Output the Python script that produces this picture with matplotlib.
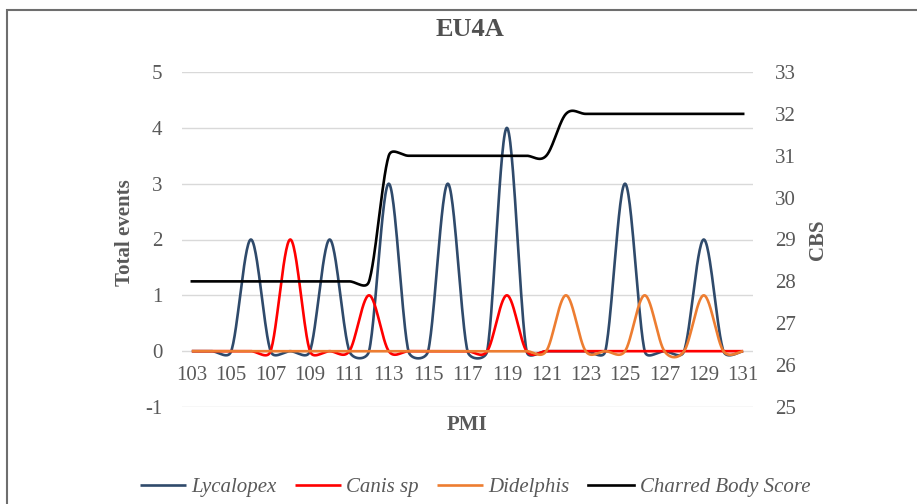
import numpy as np
import matplotlib
matplotlib.use("Agg")
import matplotlib.pyplot as plt
from matplotlib.patches import Rectangle


# Chart data
PMI = list(range(103, 132))
LYCALOPEX = [0, 0, 0, 2, 0, 0, 0, 2, 0, 0, 3, 0, 0, 3, 0,
             0, 4, 0, 0, 0, 0, 0, 3, 0, 0, 0, 2, 0, 0]
CANIS = [0, 0, 0, 0, 0, 2, 0, 0, 0, 1, 0, 0, 0, 0, 0,
         0, 1, 0, 0, 0, 0, 0, 0, 0, 0, 0, 0, 0, 0]
DIDELPHIS = [0, 0, 0, 0, 0, 0, 0, 0, 0, 0, 0, 0, 0, 0, 0,
             0, 0, 0, 0, 1, 0, 0, 0, 1, 0, 0, 1, 0, 0]
CBS = [28, 28, 28, 28, 28, 28, 28, 28, 28, 28, 31, 31, 31, 31, 31,
       31, 31, 31, 31, 32, 32, 32, 32, 32, 32, 32, 32, 32, 32]
SERIES_NAMES = ["Lycalopex", "Canis sp", "Didelphis", "Charred Body Score"]

# Styling
W, H = 917, 504
GREY = "#595959"
COLORS = ["#2f4a6b", "#ff0000", "#ed7d31", "#000000"]
plt.rcParams["font.family"] = ["Liberation Serif", "DejaVu Serif"]
plt.rcParams["axes.unicode_minus"] = False


def smooth(axis, xs, ys, steps=30):
    """Excel-like smoothed line: Catmull-Rom Bezier segments, with every
    control arm limited to half the on-screen length of its segment."""
    pts = axis.transData.transform(np.column_stack([xs, ys]).astype(float))
    pad = np.vstack([pts[:1], pts, pts[-1:]])
    n = len(pts)

    def ctrl(i):
        # (incoming, outgoing) control points around pad[i]
        p0, p1, p2 = pad[i - 1], pad[i], pad[i + 1]
        v = p2 - p0
        lv = np.hypot(*v)
        if lv == 0:
            return p1, p1
        u = v / lv
        arm_in = min(lv / 6, np.hypot(*(p1 - p0)) / 2)
        arm_out = min(lv / 6, np.hypot(*(p2 - p1)) / 2)
        return p1 - arm_in * u, p1 + arm_out * u

    t = np.linspace(0, 1, steps)[:, None]
    out = []
    for i in range(n - 1):
        a = pad[i + 1]
        b = pad[i + 2]
        c1 = ctrl(i + 1)[1]
        c2 = ctrl(i + 2)[0]
        seg = ((1 - t) ** 3) * a + 3 * ((1 - t) ** 2) * t * c1 \
            + 3 * (1 - t) * t ** 2 * c2 + t ** 3 * b
        out.append(seg if i == 0 else seg[1:])
    out = axis.transData.inverted().transform(np.vstack(out))
    return out[:, 0], out[:, 1]


fig = plt.figure(figsize=(W / 100, H / 100), dpi=100)
ax = fig.add_axes([182 / W, 1 - 407 / H, (753 - 182) / W, (407 - 72) / H])
ax2 = ax.twinx()

# frame around the chart (only top and left edges are visible)
fig.add_artist(Rectangle((7 / W, -0.2), 2, 1.2 - 9.5 / H, transform=fig.transFigure,
                         fill=False, ec="#6e6e6e", lw=1.5))

# left axis: event counts
ax.set_xlim(102.5, 131.5)
ax.set_ylim(-1, 5)
ax.set_yticks(range(-1, 6))
ax.set_xticks(PMI[::2])
ax.grid(axis="y", color="#d9d9d9", lw=1)
ax.set_axisbelow(True)
for s in ax.spines.values():
    s.set_color("none")
ax.spines["bottom"].set_position(("data", 0))
ax.tick_params(axis="y", length=0, pad=14, labelsize=15, labelcolor=GREY)
ax.tick_params(axis="x", length=0, pad=11, labelsize=15, labelcolor=GREY)

# right axis: charred body score
ax2.set_ylim(25, 33)
ax2.set_yticks(range(25, 34))
for s in ax2.spines.values():
    s.set_color("none")
ax2.tick_params(axis="y", length=0, pad=16, labelsize=15, labelcolor=GREY)

handles = []
for name, vals, col in zip(SERIES_NAMES[:3], [LYCALOPEX, CANIS, DIDELPHIS], COLORS[:3]):
    sx, sy = smooth(ax, PMI, vals)
    line, = ax.plot(sx, sy, color=col, lw=1.9, label=name, solid_capstyle="butt")
    handles.append(line)

sx, sy = smooth(ax2, PMI, CBS)
line, = ax2.plot(sx, sy, color=COLORS[3], lw=1.9, label=SERIES_NAMES[3])
handles.append(line)

# texts
fig.text(470 / W, 1 - 29 / H, "EU4A", ha="center", va="center",
         fontsize=19, fontweight="bold", color="#505050")
fig.text(125 / W, 1 - 233 / H, "Total events", rotation=90, ha="center", va="center",
         fontsize=15, fontweight="bold", color=GREY)
fig.text(467 / W, 1 - 425 / H, "PMI", ha="center", va="center",
         fontsize=15, fontweight="bold", color=GREY)
fig.text(818 / W, 1 - 240 / H, "CBS", rotation=90, ha="center", va="center",
         fontsize=15, fontweight="bold", color=GREY)

leg = fig.legend(handles, SERIES_NAMES, loc="center", bbox_to_anchor=(475 / W, 1 - 487 / H),
                 ncol=4, frameon=False, handlelength=2.2, handletextpad=0.25,
                 columnspacing=0.9, prop={"style": "italic", "size": 15})
for txt in leg.get_texts():
    txt.set_color(GREY)

fig.savefig("out.png", dpi=100)
